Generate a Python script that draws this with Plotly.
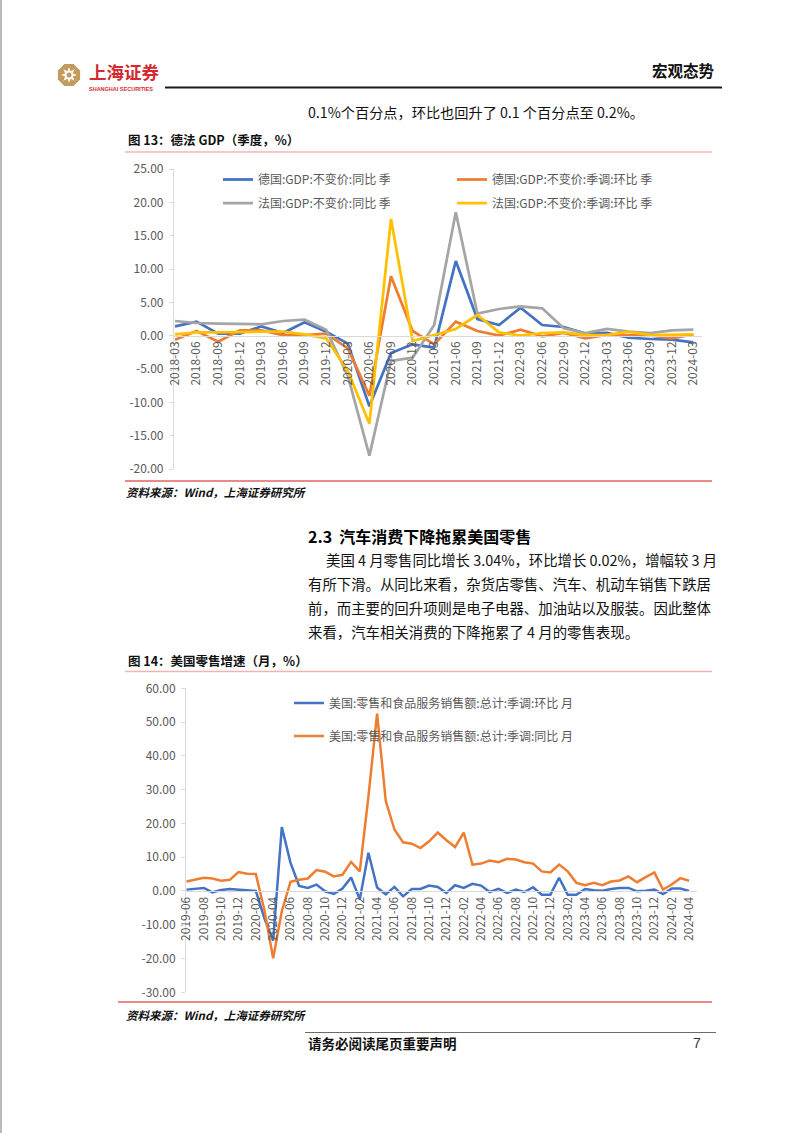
import plotly.graph_objects as go
import math

W, H = 802, 1133
def X(p): return p / W
def Y(p): return 1 - p / H

# ---------------- data: chart 13 ----------------
quarters = ['2018-03','2018-06','2018-09','2018-12','2019-03','2019-06','2019-09','2019-12',
            '2020-03','2020-06','2020-09','2020-12','2021-03','2021-06','2021-09','2021-12',
            '2022-03','2022-06','2022-09','2022-12','2023-03','2023-06','2023-09','2023-12','2024-03']
de_yoy = [1.4, 2.1, 0.3, 0.3, 1.4, 0.4, 2.0, 0.6, -1.2, -10.6, -2.6, -1.3, -1.8, 11.2, 2.5, 1.6,
          4.2, 1.6, 1.3, 0.3, 0.4, -0.3, -0.5, -0.6, -1.0]
de_qoq = [-0.6, 0.7, -0.9, 0.8, 0.8, 0.1, 0.1, 0.3, -1.9, -9.0, 8.9, 0.7, -1.3, 2.1, 0.7, 0.0,
          0.9, -0.1, 0.4, -0.4, 0.1, 0.1, 0.0, -0.4, 0.2]
fr_yoy = [2.2, 1.9, 1.8, 1.8, 1.7, 2.2, 2.4, 0.9, -6.0, -18.0, -3.8, -3.3, 1.6, 18.5, 3.3, 4.0,
          4.4, 4.1, 1.1, 0.4, 1.0, 0.6, 0.4, 0.8, 0.9]
fr_qoq = [0.2, 0.5, 0.5, 0.6, 0.6, 0.6, 0.2, -0.4, -5.3, -13.2, 17.5, -0.8, 0.1, 1.0, 3.1, 0.5,
          0.0, 0.4, 0.5, 0.1, 0.1, 0.6, 0.1, 0.1, 0.2]
names1 = ['德国:GDP:不变价:同比 季', '德国:GDP:不变价:季调:环比 季',
          '法国:GDP:不变价:同比 季', '法国:GDP:不变价:季调:环比 季']
y1_ticks = [25, 20, 15, 10, 5, 0, -5, -10, -15, -20]

# ---------------- data: chart 14 ----------------
months = [f'{2019 + (5 + k) // 12}-{(5 + k) % 12 + 1:02d}' for k in range(59)]
us_mom = [0.4, 0.6, 0.9, -0.4, 0.3, 0.6, 0.4, 0.2, 0.0, -8.2, -14.7, 18.9, 8.4, 1.5, 0.9, 1.9,
          -0.1, -0.9, 0.7, 4.0, -2.5, 11.3, 1.0, -1.0, 1.2, -1.6, 0.6, 0.6, 1.6, 1.2, -0.6, 1.7,
          0.9, 2.1, 1.6, -0.3, 0.6, -0.6, 0.4, -0.3, 1.1, -1.1, -1.1, 3.9, -1.1, -1.1, 0.6, 0.2,
          0.1, 0.6, 0.9, 0.9, -0.1, 0.1, 0.4, -0.9, 0.7, 0.7, 0.02]
us_yoy = [2.8, 3.3, 3.9, 3.7, 3.0, 3.3, 5.6, 5.1, 5.0, -5.8, -19.9, -6.0, 2.7, 3.3, 3.7, 6.2,
          5.7, 4.3, 4.8, 8.6, 5.8, 28.0, 52.5, 26.6, 18.2, 14.4, 14.0, 12.7, 14.7, 17.3, 15.0, 13.0,
          17.3, 7.8, 8.1, 9.0, 8.5, 9.5, 9.3, 8.5, 8.1, 5.8, 5.5, 7.8, 5.8, 2.4, 1.7, 2.4,
          1.7, 2.8, 3.1, 4.3, 2.6, 4.1, 5.5, 0.4, 1.9, 3.8, 3.04]
names2 = ['美国:零售和食品服务销售额:总计:季调:环比 月', '美国:零售和食品服务销售额:总计:季调:同比 月']
y2_ticks = [60, 50, 40, 30, 20, 10, 0, -10, -20, -30]

C_BLUE, C_ORANGE, C_GRAY, C_YELLOW = '#4472C4', '#ED7D31', '#A5A5A5', '#FFC000'
FONT = 'Noto Sans CJK SC'
TXT = '#595959'

fig = go.Figure()

# chart 13 traces
series1 = [(de_yoy, C_BLUE, 'legend'), (de_qoq, C_ORANGE, 'legend2'),
           (fr_yoy, C_GRAY, 'legend3'), (fr_qoq, C_YELLOW, 'legend4')]
for (vals, col, lg), nm in zip(series1, names1):
    fig.add_trace(go.Scatter(x=quarters, y=vals, name=nm, mode='lines',
                             line=dict(color=col, width=2.75), xaxis='x', yaxis='y', legend=lg))

# chart 14 traces
for vals, col, nm, lg in [(us_mom, C_BLUE, names2[0], 'legend5'), (us_yoy, C_ORANGE, names2[1], 'legend6')]:
    fig.add_trace(go.Scatter(x=months, y=vals, name=nm, mode='lines',
                             line=dict(color=col, width=2.5), xaxis='x2', yaxis='y2', legend=lg))

# axes geometry
x0_1, dx_1, xr_1 = 175.0, 21.6, 701.7
y_top1, y_bot1 = 169.0, 469.0
zero1 = y_bot1 - 20 * (y_bot1 - y_top1) / 45
x0_2, dx_2, xr_2 = 186.5, 8.664, 697.0
y_top2, y_bot2 = 688.3, 992.3
zero2 = y_bot2 - 30 * (y_bot2 - y_top2) / 90

tickfont = dict(family=FONT, size=12, color=TXT)
common_x = dict(type='category', anchor='free', showline=True, linecolor='#D9D9D9', linewidth=1,
                ticks='', tickangle=-90, tickfont=tickfont, showgrid=False, zeroline=False,
                automargin=False, fixedrange=True)
common_y = dict(showline=True, linecolor='#D9D9D9', linewidth=1, ticks='outside', ticklen=4,
                tickcolor='#D9D9D9', tickfont=tickfont, showgrid=False, zeroline=False,
                automargin=False, fixedrange=True, ticklabelstandoff=3)

fig.update_layout(
    xaxis=dict(common_x, domain=[X(x0_1 - 0.05 * dx_1), X(xr_1)],
               range=[-0.05, (xr_1 - x0_1) / dx_1], position=Y(zero1)),
    yaxis=dict(common_y, domain=[Y(y_bot1), Y(y_top1)], range=[-20, 25], anchor='x',
               tickvals=y1_ticks, ticktext=[f'{v:.2f}' for v in y1_ticks]),
    xaxis2=dict(common_x, domain=[X(x0_2 - 0.05 * dx_2), X(xr_2)],
                range=[-0.05, (xr_2 - x0_2) / dx_2], position=Y(zero2),
                tickvals=months[::2]),
    yaxis2=dict(common_y, domain=[Y(y_bot2), Y(y_top2)], range=[-30, 60], anchor='x2',
                tickvals=y2_ticks, ticktext=[f'{v:.2f}' for v in y2_ticks]),
)

# legends
def leg(xline, yc):
    return dict(x=X(xline - 8), y=Y(yc), xanchor='left', yanchor='middle',
                bgcolor='rgba(0,0,0,0)', borderwidth=0, itemwidth=30,
                font=dict(family=FONT, size=12, color=TXT))
fig.update_layout(
    legend=leg(226, 179.5), legend2=leg(460, 179.5),
    legend3=leg(226, 203), legend4=leg(460, 203),
    legend5=leg(297, 703), legend6=leg(297, 736),
)

shapes = []
def line(x0, y0, x1, y1, color, width=1):
    shapes.append(dict(type='line', xref='paper', yref='paper', x0=X(x0), y0=Y(y0),
                       x1=X(x1), y1=Y(y1), line=dict(color=color, width=width)))

line(1, 0, 1, H, '#8C8C8C', 1.2)               # page border
line(165, 87.5, 722, 87.5, '#1a1a1a', 2)       # header rule
line(125, 152, 712, 152, '#F2B3B0', 1.5)       # chart 13 title rule
line(125, 481, 712, 481, '#E26262', 1.5)       # chart 13 bottom rule
line(125, 671.5, 712, 671.5, '#F2B3B0', 1.5)   # chart 14 title rule
line(118, 1002, 712, 1002, '#E26262', 1.5)     # chart 14 bottom rule
line(305, 1032.5, 716, 1032.5, '#6b6b6b', 1)   # footer rule

# logo (octagonal badge)
cx, cy, r = 69, 75, 12
oct_pts = [(cx + r * math.cos(math.radians(22.5 + 45 * k)), cy + r * math.sin(math.radians(22.5 + 45 * k))) for k in range(8)]
path = 'M ' + ' L '.join(f'{X(px)},{Y(py)}' for px, py in oct_pts) + ' Z'
shapes.append(dict(type='path', xref='paper', yref='paper', path=path, fillcolor='#C39B5C', line=dict(width=0)))
star = []
for k in range(16):
    rr = 8 if k % 2 == 0 else 4
    a = math.radians(22.5 * k)
    star.append((cx + rr * math.cos(a), cy + rr * math.sin(a)))
path2 = 'M ' + ' L '.join(f'{X(px)},{Y(py)}' for px, py in star) + ' Z'
shapes.append(dict(type='path', xref='paper', yref='paper', path=path2, fillcolor='white', line=dict(width=0)))
shapes.append(dict(type='circle', xref='paper', yref='paper', x0=X(cx - 2.5), x1=X(cx + 2.5),
                   y0=Y(cy + 2.5), y1=Y(cy - 2.5), fillcolor='#C39B5C', line=dict(width=0)))
fig.update_layout(shapes=shapes)

anns = []
def text(x, y, s, size, color='#000', bold=False, anchor='left', family=FONT, pad=1):
    anns.append(dict(xref='paper', yref='paper', x=X(x), y=Y(y), text=(f'<b>{s}</b>' if bold else s),
                     showarrow=False, xanchor=anchor, yanchor='middle', borderpad=pad,
                     font=dict(family=family, size=size, color=color)))

text(88, 71.5, '上海证券', 17.5, '#D42A2F', True, pad=0)
text(88, 88.5, 'SHANGHAI SECURITIES', 5.5, '#D42A2F', True, family='Liberation Sans', pad=0)
text(717, 70, '宏观态势', 15.5, '#111', True, 'right')
text(306, 112, '0.1%个百分点，环比也回升了 0.1 个百分点至 0.2%。', 14.2, '#111')
text(126, 140, '图 13：德法 GDP（季度，%）', 12.5, '#111', True)
text(124, 492, '<i>资料来源：Wind，上海证券研究所</i>', 11.5, '#111', True)
text(306, 536, '2.3  汽车消费下降拖累美国零售', 16, '#000', True)
body = ['美国 4 月零售同比增长 3.04%，环比增长 0.02%，增幅较 3 月',
        '有所下滑。从同比来看，杂货店零售、汽车、机动车销售下跌居',
        '前，而主要的回升项则是电子电器、加油站以及服装。因此整体',
        '来看，汽车相关消费的下降拖累了 4 月的零售表现。']
for k, s in enumerate(body):
    text(324 if k == 0 else 306, 559 + 24 * k, s, 14.4, '#111')
text(126, 660, '图 14：美国零售增速（月，%）', 12.5, '#111', True)
text(124, 1015, '<i>资料来源：Wind，上海证券研究所</i>', 11.5, '#111', True)
text(306, 1043, '请务必阅读尾页重要声明', 13.5, '#111', True)
text(703, 1043, '7', 14, '#333', False, 'right', 'Liberation Sans')
fig.update_layout(annotations=anns)

fig.update_layout(width=W, height=H, margin=dict(l=0, r=0, t=0, b=0), template='none',
                  paper_bgcolor='white', plot_bgcolor='rgba(0,0,0,0)', showlegend=True,
                  font=dict(family=FONT, color=TXT))

fig.write_html('out.html')
